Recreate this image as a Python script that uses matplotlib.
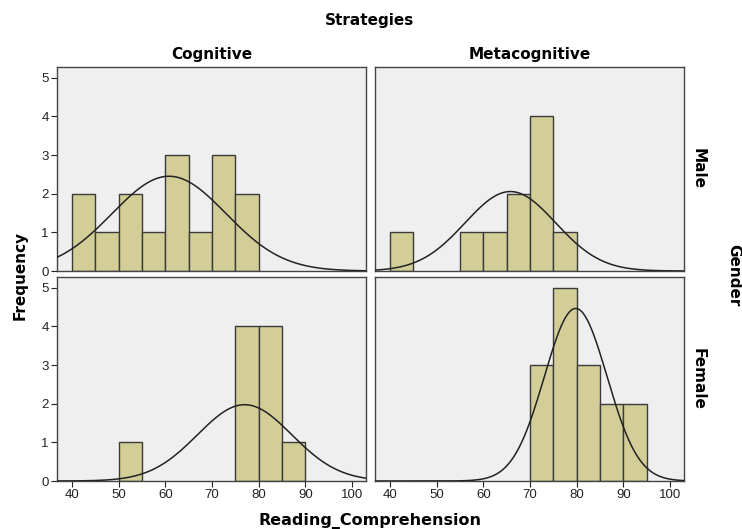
import numpy as np
import matplotlib
matplotlib.use("Agg")
import matplotlib.pyplot as plt

plt.rcParams['font.family'] = ['Liberation Sans', 'DejaVu Sans']

# histogram bins (Reading_Comprehension), width 5
bin_edges = [40, 45, 50, 55, 60, 65, 70, 75, 80, 85, 90, 95]

# counts per bin, per Gender x Strategies cell
male_cognitive = [2, 1, 2, 1, 3, 1, 3, 2, 0, 0, 0]
male_metacognitive = [1, 0, 0, 1, 1, 2, 4, 1, 0, 0, 0]
female_cognitive = [0, 0, 1, 0, 0, 0, 0, 4, 4, 1, 0]
female_metacognitive = [0, 0, 0, 0, 0, 0, 3, 5, 3, 2, 2]

# normal curve parameters (mean, sd)
male_cognitive_fit = (60.8, 12.2)
male_metacognitive_fit = (65.8, 9.7)
female_cognitive_fit = (77.0, 10.1)
female_metacognitive_fit = (79.8, 6.7)

strategies = ['Cognitive', 'Metacognitive']
genders = ['Male', 'Female']
x_ticks = [40, 50, 60, 70, 80, 90, 100]
y_ticks = [0, 1, 2, 3, 4, 5]

cells = {
    ('Male', 'Cognitive'): (male_cognitive, male_cognitive_fit),
    ('Male', 'Metacognitive'): (male_metacognitive, male_metacognitive_fit),
    ('Female', 'Cognitive'): (female_cognitive, female_cognitive_fit),
    ('Female', 'Metacognitive'): (female_metacognitive, female_metacognitive_fit),
}

fig = plt.figure(figsize=(7.42, 5.29), dpi=100)

W, H = 742, 529
lefts = [57, 375]
tops = [67, 277]
pw, ph = 309, 204

bar_color = '#d3ce98'
edge_color = '#3a3a3a'
bg_color = '#efefef'
bold = dict(family='DejaVu Sans', fontweight='bold')

xs = np.linspace(36.8, 103, 300)
widths = np.diff(bin_edges)

for r, g in enumerate(genders):
    for c, s in enumerate(strategies):
        ax = fig.add_axes([lefts[c] / W, 1 - (tops[r] + ph) / H, pw / W, ph / H])
        ax.set_facecolor(bg_color)
        counts, (mu, sd) = cells[(g, s)]
        # skip empty bins so no edge line is drawn for them
        left = [e for e, k in zip(bin_edges[:-1], counts) if k > 0]
        hts = [k for k in counts if k > 0]
        wds = [w for w, k in zip(widths, counts) if k > 0]
        ax.bar(left, hts, width=wds, align='edge',
               color=bar_color, edgecolor=edge_color, linewidth=1.0, zorder=2)
        n = sum(counts)
        curve = n * 5 / (sd * np.sqrt(2 * np.pi)) * np.exp(-0.5 * ((xs - mu) / sd) ** 2)
        ax.plot(xs, curve, color='#222222', linewidth=1.1, zorder=3)
        ax.set_xlim(36.8, 103)
        ax.set_ylim(0, 5.28)
        ax.set_xticks(x_ticks)
        ax.set_yticks(y_ticks)
        ax.tick_params(direction='out', length=4, width=0.8, labelsize=9.5,
                       colors='#222222', pad=2)
        if c == 1:
            ax.tick_params(axis='y', length=0, labelleft=False)
        if r == 0:
            ax.tick_params(axis='x', length=0, labelbottom=False)
            ax.set_title(s, fontsize=11, pad=6, **bold)
        if c == 1:
            ax.text(1.022, 0.5, g, transform=ax.transAxes, rotation=-90,
                    ha='left', va='center', fontsize=11, **bold)
        for sp in ax.spines.values():
            sp.set_color('#444444')
            sp.set_linewidth(1.0)

fig.text(370 / W, 1 - 20 / H, 'Strategies', ha='center', va='center',
         fontsize=11, **bold)
fig.text(370 / W, 1 - 521 / H, 'Reading_Comprehension', ha='center', va='center',
         fontsize=11.5, **bold)
fig.text(20 / W, 1 - 275 / H, 'Frequency', ha='center', va='center',
         rotation=90, fontsize=11, **bold)
fig.text(734 / W, 1 - 275 / H, 'Gender', ha='center', va='center',
         rotation=-90, fontsize=11, **bold)

fig.savefig('out.png', dpi=100)
